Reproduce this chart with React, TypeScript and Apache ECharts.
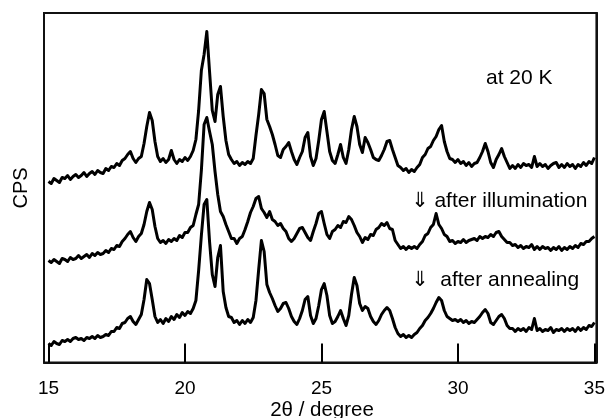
import React, { useEffect, useRef } from "react";
import * as echarts from "echarts";

// 2θ sampling grid (degrees), 15.0 … 35.0 in 0.1 steps
const twoTheta: number[] = Array.from({ length: 201 }, (_, i) => +(15 + i * 0.1).toFixed(1));

// intensities (arbitrary CPS units, offset traces)
const at20K: number[] = [
  181, 179, 184, 182, 180, 185, 184, 187, 183, 186,
  188, 185, 187, 190, 186, 189, 191, 188, 192, 190,
  189, 194, 192, 196, 195, 199, 197, 202, 204, 208,
  211, 204, 200, 204, 206, 219, 236, 250, 242, 221,
  206, 201, 204, 200, 203, 212, 203, 199, 203, 201,
  205, 202, 206, 212, 223, 252, 292, 308, 331, 291,
  252, 241, 268, 276, 246, 222, 208, 203, 199, 201,
  197, 200, 198, 201, 199, 204, 227, 248, 273, 269,
  243, 236, 228, 218, 207, 205, 213, 216, 220, 211,
  203, 198, 205, 211, 225, 230, 206, 197, 204, 222,
  243, 251, 231, 211, 202, 199, 208, 218, 205, 199,
  213, 233, 246, 236, 218, 210, 225, 220, 213, 205,
  203, 202, 207, 213, 221, 222, 213, 205, 197, 195,
  192, 194, 190, 193, 191, 195, 198, 205, 208, 214,
  216, 222, 226, 233, 237, 221, 211, 204, 203, 200,
  203, 199, 201, 197, 200, 196, 199, 200, 205, 211,
  219, 211, 200, 195, 203, 208, 214, 206, 200, 194,
  197, 194, 198, 195, 199, 197, 198, 195, 206, 196,
  199, 196, 198, 194, 197, 199, 200, 195, 198, 195,
  199, 196, 198, 194, 198, 196, 200, 197, 201, 199,
  205,
];

const afterIllumination: number[] = [
  102, 100, 103, 101, 99, 104, 103, 101, 105, 103,
  104, 107, 104, 106, 108, 105, 109, 107, 110, 108,
  109, 112, 110, 114, 113, 117, 116, 121, 124, 128,
  131, 125, 121, 126, 129, 138, 151, 160, 153, 136,
  124, 120, 122, 119, 123, 121, 124, 122, 127, 125,
  130, 130, 135, 137, 148, 158, 192, 238, 245, 231,
  218, 191, 168, 151, 146, 138, 131, 124, 124, 119,
  124, 126, 133, 141, 150, 156, 164, 166, 154, 150,
  145, 151, 143, 141, 137, 139, 134, 131, 124, 121,
  124, 129, 134, 135, 130, 125, 122, 131, 139, 149,
  151, 139, 128, 124, 131, 133, 137, 135, 141, 140,
  146, 143, 137, 130, 126, 120, 125, 123, 128, 127,
  133, 135, 139, 137, 140, 134, 133, 122, 118, 114,
  116, 113, 116, 114, 116, 114, 118, 121, 127, 129,
  135, 138, 149, 138, 134, 128, 126, 121, 122, 119,
  121, 120, 123, 120, 122, 123, 124, 122, 126, 124,
  126, 125, 128, 126, 130, 131, 126, 123, 120, 120,
  117, 118, 115, 117, 114, 116, 115, 118, 113, 116,
  113, 116, 114, 115, 112, 115, 113, 116, 112, 115,
  113, 116, 114, 117, 115, 119, 118, 121, 121, 124,
  126,
];

const afterAnnealing: number[] = [
  19, 17, 21, 19, 18, 22, 21, 23, 21, 24,
  25, 23, 24, 22, 25, 24, 26, 24, 27, 25,
  26, 28, 27, 31, 31, 35, 34, 39, 40, 44,
  46, 41, 38, 43, 48, 63, 83, 79, 63, 46,
  40, 43, 39, 44, 41, 46, 43, 48, 45, 50,
  47, 51, 49, 54, 62, 92, 127, 158, 163, 121,
  88, 76, 105, 117, 71, 55, 46, 45, 40, 42,
  38, 42, 39, 43, 40, 45, 62, 93, 122, 111,
  78, 70, 64, 57, 51, 54, 59, 60, 54, 46,
  41, 38, 44, 52, 63, 66, 47, 39, 44, 57,
  73, 79, 67, 47, 39, 41, 46, 52, 44, 37,
  47, 68, 85, 77, 59, 52, 56, 54, 46, 41,
  38, 42, 48, 52, 55, 52, 44, 35, 29, 26,
  28, 25, 27, 25, 28, 30, 34, 37, 42, 45,
  49, 54, 60, 65, 62, 52, 46, 44, 42, 43,
  41, 43, 40, 42, 39, 41, 40, 43, 46, 50,
  53, 49, 40, 38, 42, 46, 48, 44, 37, 34,
  34, 31, 34, 32, 34, 31, 35, 33, 44, 32,
  34, 31, 33, 32, 35, 30, 33, 32, 34, 31,
  34, 32, 34, 31, 35, 32, 35, 33, 37, 36,
  40,
];

const xTicks: number[] = [15, 20, 25, 30, 35];

// axis extent: the frame is a little wider than the 15–35 tick range
const X_MIN = 14.835;
const X_MAX = 35.073;
const Y_MAX = 349.5;

const FONT = "'Liberation Sans', Arial, 'DejaVu Sans', sans-serif";
const INK = "#111";

export default function App() {
  const ref = useRef<HTMLDivElement>(null);

  useEffect(() => {
    if (!ref.current) return;
    const chart = echarts.init(ref.current, null, { renderer: "svg" });
    const mk = (arr: number[]) => twoTheta.map((x, i) => [x, arr[i]]);
    const lineSeries = (name: string, arr: number[]) => ({
      name,
      type: "line",
      data: mk(arr),
      symbol: "none",
      showSymbol: false,
      lineStyle: { color: "#000", width: 3, join: "round" },
      itemStyle: { color: "#000" },
    });
    const txt = (text: string, x: number, y: number, size: number, align: string, extra: any = {}) => ({
      type: "text",
      x,
      y,
      ...extra,
      style: {
        text,
        fill: "#000",
        font: `${size}px ${FONT}`,
        textAlign: align,
        textVerticalAlign: "middle",
      },
    });
    const frameLine = () => ({ show: true, onZero: false, lineStyle: { color: INK, width: 2 } });
    chart.setOption({
      animation: false,
      grid: {
        left: 44,
        right: 11,
        top: 13,
        bottom: 55.5,
        show: true,
        borderColor: INK,
        borderWidth: 2,
      },
      xAxis: [
        {
          type: "value",
          position: "bottom",
          min: X_MIN,
          max: X_MAX,
          axisLine: frameLine(),
          axisTick: {
            show: true,
            inside: true,
            length: 19,
            customValues: xTicks,
            lineStyle: { color: "#000", width: 2 },
          },
          splitLine: { show: false },
          axisLabel: {
            color: "#000",
            fontSize: 19,
            fontFamily: FONT,
            margin: 15,
            customValues: xTicks,
            formatter: (v: number) => String(v),
          },
        },
        {
          type: "value",
          position: "top",
          min: X_MIN,
          max: X_MAX,
          axisLine: frameLine(),
          axisTick: { show: false },
          axisLabel: { show: false },
          splitLine: { show: false },
        },
      ],
      yAxis: [
        {
          type: "value",
          position: "left",
          min: 0,
          max: Y_MAX,
          axisLine: frameLine(),
          axisTick: { show: false },
          axisLabel: { show: false },
          splitLine: { show: false },
        },
        {
          type: "value",
          position: "right",
          min: 0,
          max: Y_MAX,
          axisLine: frameLine(),
          axisTick: { show: false },
          axisLabel: { show: false },
          splitLine: { show: false },
        },
      ],
      series: [
        lineSeries("at 20 K", at20K),
        lineSeries("after illumination", afterIllumination),
        lineSeries("after annealing", afterAnnealing),
      ],
      graphic: [
        txt("2θ / degree", 322, 408, 20.5, "center"),
        txt("CPS", 19.5, 188, 20, "center", { rotation: Math.PI / 2 }),
        txt("at 20 K", 486, 76, 21, "left"),
        txt("⇓ after illumination", 411, 199, 21, "left"),
        txt("⇓  after annealing", 411, 278.5, 21, "left"),
      ],
    });
    return () => chart.dispose();
  }, []);

  return (
    <div style={{ position: "fixed", left: 0, top: 0, width: 608, height: 418 }}>
      <div ref={ref} style={{ position: "absolute", left: 0, top: 0, width: 608, height: 418 }} />
    </div>
  );
}
